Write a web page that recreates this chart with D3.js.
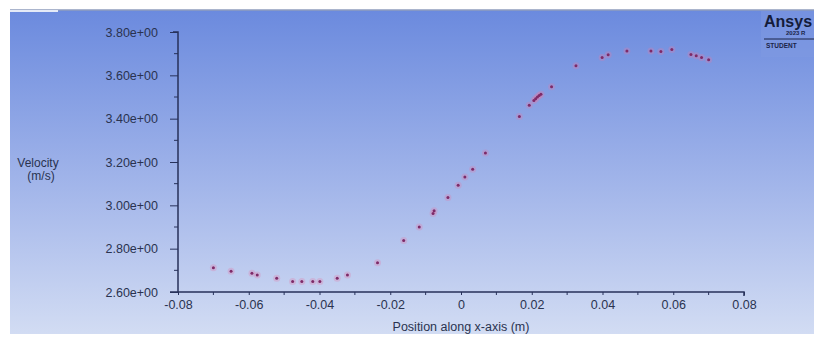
<!DOCTYPE html>
<html>
<head>
<meta charset="utf-8">
<script src="https://cdn.jsdelivr.net/npm/d3@7"></script>
<style>
  body { margin: 0; background: #fff; }
  text { font-family: "Liberation Sans", Arial, sans-serif; }
</style>
</head>
<body>
<div id="chart"></div>
<script>
// position along x-axis (m) and velocity (m/s)
var posX = [-0.0700, -0.0650, -0.0591, -0.0576, -0.0521, -0.0476, -0.0450, -0.0419, -0.0399,
            -0.0350, -0.0321, -0.0236, -0.0162, -0.0118, -0.0079, -0.0076, -0.0037, -0.0008,
             0.0011,  0.0033,  0.0069,  0.0165,  0.0193,  0.0206,  0.0211,  0.0216,  0.0221,
             0.0226,  0.0256,  0.0325,  0.0399,  0.0416,  0.0469,  0.0537,  0.0565,  0.0596,
             0.0650,  0.0665,  0.0680,  0.0700];
var velocity = [2.712, 2.696, 2.686, 2.679, 2.663, 2.649, 2.649, 2.649, 2.649,
                2.663, 2.679, 2.735, 2.838, 2.900, 2.962, 2.975, 3.036, 3.093,
                3.131, 3.167, 3.241, 3.410, 3.462, 3.484, 3.492, 3.500, 3.507,
                3.513, 3.547, 3.644, 3.682, 3.695, 3.712, 3.712, 3.710, 3.719,
                3.696, 3.690, 3.682, 3.672];
var xTicks = [-0.08, -0.06, -0.04, -0.02, 0, 0.02, 0.04, 0.06, 0.08];
var yTicks = [2.6, 2.8, 3.0, 3.2, 3.4, 3.6, 3.8];

var W = 814, H = 338;
var svg = d3.select("#chart").append("svg")
    .attr("width", W).attr("height", H);

var defs = svg.append("defs");
var grad = defs.append("linearGradient").attr("id", "bg")
    .attr("x1", 0).attr("y1", 0).attr("x2", 0).attr("y2", 1);
grad.append("stop").attr("offset", "0%").attr("stop-color", "#6b8ade");
grad.append("stop").attr("offset", "55%").attr("stop-color", "#a3b6ea");
grad.append("stop").attr("offset", "100%").attr("stop-color", "#d2dcf3");

// viewport background
svg.append("rect").attr("x", 10).attr("y", 10).attr("width", W - 10).attr("height", 324)
    .attr("fill", "url(#bg)");
svg.append("line").attr("x1", 10).attr("x2", W).attr("y1", 10).attr("y2", 10)
    .attr("stroke", "#8f9cbc").attr("stroke-width", 1.5);
svg.append("line").attr("x1", 10).attr("x2", 58).attr("y1", 11).attr("y2", 11)
    .attr("stroke", "#e4eaf7").attr("stroke-width", 2);

// logo panel
svg.append("rect").attr("x", 761).attr("y", 11).attr("width", 53).attr("height", 46)
    .attr("fill", "#7f9ae2").attr("opacity", 0.5);
svg.append("text").attr("x", 764).attr("y", 27).text("Ansys")
    .attr("font-size", "16px").attr("font-weight", "bold").attr("fill", "#141c3a");
svg.append("text").attr("x", 786).attr("y", 35).text("2023 R")
    .attr("font-size", "6px").attr("font-weight", "bold").attr("fill", "#1a2448");
svg.append("line").attr("x1", 764).attr("x2", W).attr("y1", 39).attr("y2", 39)
    .attr("stroke", "#1a2448").attr("stroke-width", 1);
svg.append("text").attr("x", 766).attr("y", 48).text("STUDENT")
    .attr("font-size", "6.5px").attr("font-weight", "bold").attr("fill", "#1a2448");

var x = d3.scaleLinear().domain([-0.08, 0.08]).range([178, 744]);
var y = d3.scaleLinear().domain([2.6, 3.8]).range([292, 32]);

var axisColor = "#27315a";
var textColor = "#2a3350";

// y axis
var yAxis = svg.append("g").attr("transform", "translate(178,0)");
yAxis.call(d3.axisLeft(y).tickValues(yTicks).tickSize(8).tickPadding(12)
    .tickFormat(function(d) { return d.toExponential(2).replace("e+", "e+0"); }));
var yMinor = d3.range(0, 6).map(function(i) { return 2.7 + i * 0.2; });
yAxis.selectAll("line.minor").data(yMinor).enter().append("line")
    .attr("class", "minor").attr("x1", -4).attr("x2", 0)
    .attr("y1", function(d) { return y(d); }).attr("y2", function(d) { return y(d); })
    .attr("stroke", axisColor);

// x axis
var xAxis = svg.append("g").attr("transform", "translate(0,292)");
xAxis.call(d3.axisBottom(x).tickValues(xTicks).tickSize(3).tickPadding(5)
    .tickFormat(function(d) { return d === 0 ? "0" : d.toFixed(2); }));
var xMinor = d3.range(0, 8).map(function(i) { return -0.07 + i * 0.02; });
xAxis.selectAll("line.minor").data(xMinor).enter().append("line")
    .attr("class", "minor").attr("y1", 0).attr("y2", 3)
    .attr("x1", function(d) { return x(d); }).attr("x2", function(d) { return x(d); })
    .attr("stroke", axisColor);

[xAxis, yAxis].forEach(function(g) {
  g.select(".domain").attr("stroke", axisColor).attr("stroke-width", 1.5);
  g.selectAll(".tick line").attr("stroke", axisColor);
  g.selectAll(".tick text").attr("fill", textColor).attr("font-size", "12.5px")
    .attr("font-family", "'Liberation Sans', Arial, sans-serif");
});
xAxis.select(".domain").attr("d", "M178,0H744V4");
yAxis.select(".domain").attr("d", "M-8,292H0V32H-5");

// axis titles
svg.append("text").attr("x", 461).attr("y", 331).attr("text-anchor", "middle")
    .attr("font-size", "12.5px").attr("fill", textColor).text("Position along x-axis (m)");
svg.append("text").attr("x", 38).attr("y", 167).attr("text-anchor", "middle")
    .attr("font-size", "12px").attr("fill", textColor).text("Velocity");
svg.append("text").attr("x", 41).attr("y", 180).attr("text-anchor", "middle")
    .attr("font-size", "12px").attr("fill", textColor).text("(m/s)");

// data points
var pts = posX.map(function(d, i) { return [d, velocity[i]]; });
var g = svg.append("g");
g.selectAll("circle.halo").data(pts).enter().append("circle")
    .attr("class", "halo")
    .attr("cx", function(d) { return x(d[0]); })
    .attr("cy", function(d) { return y(d[1]); })
    .attr("r", 3.5).attr("fill", "#e07aa8").attr("opacity", 0.3);
g.selectAll("circle.pt").data(pts).enter().append("circle")
    .attr("class", "pt")
    .attr("cx", function(d) { return x(d[0]); })
    .attr("cy", function(d) { return y(d[1]); })
    .attr("r", 1.5).attr("fill", "#7e2a68");
</script>
</body>
</html>
